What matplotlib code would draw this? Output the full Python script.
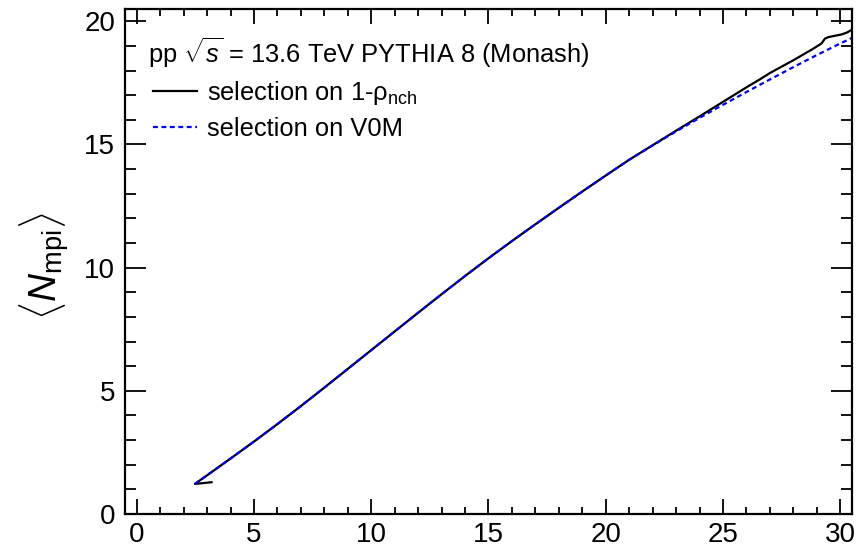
import matplotlib
matplotlib.use("Agg")
import matplotlib.pyplot as plt

plt.rcParams['font.family'] = ['Liberation Sans', 'DejaVu Sans']
plt.rcParams['mathtext.fontset'] = 'custom'
plt.rcParams['mathtext.rm'] = 'Liberation Sans'
plt.rcParams['mathtext.it'] = 'Liberation Sans:italic'
plt.rcParams['mathtext.bf'] = 'Liberation Sans:bold'

# <N_mpi> for the selection on 1-rho_nch (the curve doubles back at its first points)
x_rho = [3.19, 2.48, 3.0, 4.0, 5.0, 6.0, 7.0, 8.0, 9.0, 10.0, 11.0, 12.0, 13.0,
         14.0, 15.0, 16.0, 17.0, 18.0, 19.0, 20.0, 21.0, 22.0, 23.0, 24.0, 25.0,
         26.0, 26.6, 27.0, 27.5, 28.0, 28.4, 28.8, 29.2, 29.35, 29.5, 30.07, 30.3, 30.6]
y_rho = [1.29, 1.22, 1.57, 2.25, 2.94, 3.65, 4.38, 5.13, 5.89, 6.65, 7.41, 8.17, 8.92,
         9.66, 10.38, 11.08, 11.76, 12.43, 13.09, 13.74, 14.38, 14.97, 15.56, 16.14, 16.73,
         17.32, 17.66, 17.90, 18.16, 18.42, 18.64, 18.86, 19.10, 19.30, 19.36, 19.47, 19.55, 19.72]

# <N_mpi> for the selection on V0M
x_v0m = [2.48, 3.0, 4.0, 5.0, 6.0, 7.0, 8.0, 9.0, 10.0, 11.0, 12.0, 13.0, 14.0,
         15.0, 16.0, 17.0, 18.0, 19.0, 20.0, 21.0, 22.0, 23.0, 24.0, 25.0, 26.0,
         27.0, 28.0, 29.0, 30.0, 30.6]
y_v0m = [1.22, 1.57, 2.25, 2.94, 3.65, 4.38, 5.13, 5.89, 6.65, 7.41, 8.17, 8.92, 9.66,
         10.38, 11.08, 11.76, 12.43, 13.09, 13.74, 14.38, 14.96, 15.53, 16.08, 16.61, 17.13,
         17.64, 18.14, 18.63, 19.10, 19.37]

fig = plt.figure(figsize=(8.56, 5.5), dpi=100)
ax = fig.add_axes([0.1460, 0.06545, 0.8493, 0.9182])

ax.plot(x_rho, y_rho, color='black', lw=1.6, label=r'selection on 1-$\mathrm{\rho}_{\mathrm{nch}}$')
ax.plot(x_v0m, y_v0m, color='blue', lw=1.6, linestyle=(0, (2.2, 1.6)), label='selection on V0M')

ax.set_xlim(-0.5, 30.5)
ax.set_ylim(0, 20.5)

ax.set_xticks([0, 5, 10, 15, 20, 25, 30])
ax.set_xticks(range(0, 31), minor=True)
ax.set_yticks([0, 5, 10, 15, 20])
ax.set_yticks(range(0, 21), minor=True)

for s in ax.spines.values():
    s.set_linewidth(1.6)

ax.tick_params(axis='both', which='both', direction='in', top=True, right=True, width=1.3)
ax.tick_params(axis='x', which='major', length=11, labelsize=20, pad=6)
ax.tick_params(axis='x', which='minor', length=5)
ax.tick_params(axis='y', which='major', length=15, labelsize=20, pad=7)
ax.tick_params(axis='y', which='minor', length=8)

ax.set_ylabel(r'$\langle N_{\mathrm{mpi}}\rangle$', fontsize=28)
ax.yaxis.set_label_coords(-0.073, 0.49)

ax.text(0.0316, 0.893, r'pp $\sqrt{s}$ = 13.6 TeV PYTHIA 8 (Monash)', transform=ax.transAxes,
        fontsize=18.4, va='baseline', ha='left')

ax.legend(loc='upper left', bbox_to_anchor=(0.038, 0.862), frameon=False, fontsize=18.4,
          borderpad=0, borderaxespad=0, handlelength=1.72, handletextpad=0.4,
          labelspacing=0.42)

fig.savefig('out.png', dpi=100)
